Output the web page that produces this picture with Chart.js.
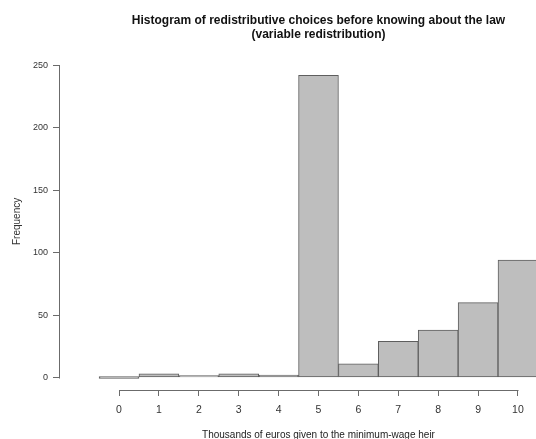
<!DOCTYPE html>
<html><head><meta charset="utf-8">
<script src="https://cdn.jsdelivr.net/npm/chart.js@4.4.1/dist/chart.umd.min.js"></script>
<style>html,body{margin:0;padding:0;overflow:hidden;background:#fff;width:536px;height:439px}canvas{display:block}</style>
</head><body>
<canvas id="c" width="600" height="439"></canvas>
<script>
const titleLines = ["Histogram of redistributive choices before knowing about the law", "(variable redistribution)"];
const xAxisTitle = "Thousands of euros given to the minimum-wage heir";
const yAxisTitle = "Frequency";
const categories = [0, 1, 2, 3, 4, 5, 6, 7, 8, 9, 10];
const frequencies = [0, 3, 1, 3, 2, 242, 11, 29, 38, 60, 94];
const xTicks = [0, 1, 2, 3, 4, 5, 6, 7, 8, 9, 10];
const yTicks = [0, 50, 100, 150, 200, 250];
const xLimits = [-1, 11];
const yLimits = [0, 250];

const FONT = '"Liberation Sans", Arial, sans-serif';
const AXIS_COLOR = '#6b6b6b';
const xExt = 0.04 * (xLimits[1] - xLimits[0]);
const yExt = 0.04 * (yLimits[1] - yLimits[0]);

const rStyle = {
  id: 'rStyle',
  afterDraw(chart) {
    const {ctx, chartArea, scales: {x, y}} = chart;
    ctx.save();
    ctx.strokeStyle = AXIS_COLOR;
    ctx.lineWidth = 1;
    ctx.beginPath();
    const ax = Math.round(chartArea.left) - 0.5;
    ctx.moveTo(ax, Math.round(y.getPixelForValue(yTicks[0])) + 0.5);
    ctx.lineTo(ax, Math.round(y.getPixelForValue(yTicks[yTicks.length - 1])) + 0.5);
    const ay = Math.round(chartArea.bottom) + 0.5;
    ctx.moveTo(Math.round(x.getPixelForValue(xTicks[0])) + 0.5, ay);
    ctx.lineTo(Math.round(x.getPixelForValue(xTicks[xTicks.length - 1])) + 0.5, ay);
    ctx.stroke();
    ctx.fillStyle = '#111';
    ctx.font = 'bold 12px ' + FONT;
    ctx.textAlign = 'center';
    ctx.textBaseline = 'middle';
    const cx = (chartArea.left + chartArea.right) / 2;
    titleLines.forEach((t, i) => ctx.fillText(t, cx, 21 + i * 14));
    ctx.restore();
  }
};

new Chart(document.getElementById('c'), {
  type: 'bar',
  data: {
    datasets: [{
      data: categories.map((c, i) => ({x: c, y: frequencies[i]})),
      backgroundColor: '#bebebe',
      borderColor: '#5e5e5e',
      borderWidth: 1,
      borderSkipped: false,
      minBarLength: 2,
      barPercentage: 1,
      categoryPercentage: 1
    }]
  },
  options: {
    responsive: false,
    animation: false,
    devicePixelRatio: 1,
    layout: {padding: {top: 52.8, right: 23, left: 0, bottom: 0}},
    plugins: {legend: {display: false}, tooltip: {enabled: false}},
    scales: {
      x: {
        type: 'linear',
        offset: false,
        min: xLimits[0] - xExt,
        max: xLimits[1] + xExt,
        afterBuildTicks: s => { s.ticks = xTicks.map(v => ({value: v})); },
        afterFit: s => { s.height = 49; },
        grid: {offset: false, drawOnChartArea: false, drawTicks: true, tickLength: 6, color: AXIS_COLOR},
        border: {display: false},
        ticks: {color: '#333', font: {family: FONT, size: 10.5}, padding: 8, maxRotation: 0, autoSkip: false},
        title: {display: true, text: xAxisTitle, color: '#222', font: {family: FONT, size: 10, lineHeight: 0.8}, padding: {top: 0, bottom: 0}}
      },
      y: {
        type: 'linear',
        min: yLimits[0] - yExt,
        max: yLimits[1] + yExt,
        afterBuildTicks: s => { s.ticks = yTicks.map(v => ({value: v})); },
        afterFit: s => { s.width = 60; },
        grid: {drawOnChartArea: false, drawTicks: true, tickLength: 7, color: AXIS_COLOR},
        border: {display: false},
        ticks: {color: '#333', font: {family: FONT, size: 9}, padding: 5, autoSkip: false},
        title: {display: true, text: yAxisTitle, color: '#333', font: {family: FONT, size: 10}, padding: {top: 11, bottom: 0}}
      }
    }
  },
  plugins: [rStyle]
});
</script>
</body></html>
